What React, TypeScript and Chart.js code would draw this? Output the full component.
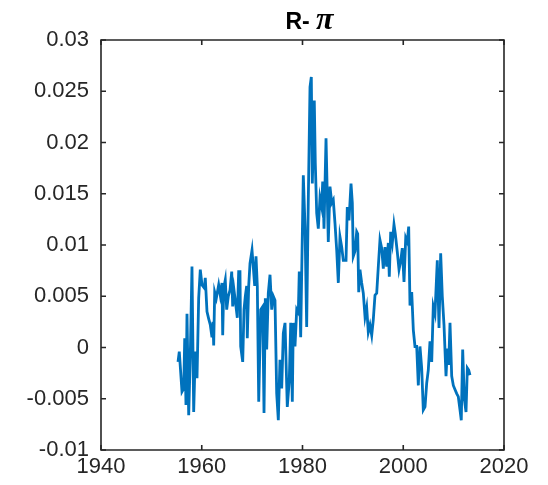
import React, { useEffect, useRef } from "react";
import { Chart, registerables } from "chart.js";

Chart.register(...registerables);

const years: number[] = [
  1955.29, 1955.54, 1956.08, 1956.42, 1956.62, 1956.87, 1957.07, 1957.41, 1957.73, 1958.06,
  1958.40, 1958.72, 1959.06, 1959.39, 1959.71, 1960.05, 1960.51, 1960.70, 1961.04, 1961.38,
  1961.70, 1962.03, 1962.23, 1962.37, 1962.57, 1962.89, 1963.36, 1963.68, 1964.02, 1964.16,
  1964.36, 1964.67, 1964.95, 1965.27, 1965.61, 1965.95, 1966.14, 1966.40, 1966.80, 1967.06,
  1967.33, 1967.59, 1967.73, 1968.13, 1968.39, 1968.65, 1968.92, 1969.04, 1969.32, 1969.58,
  1969.98, 1970.51, 1970.77, 1971.03, 1971.31, 1971.70, 1972.10, 1972.36, 1972.62, 1972.89,
  1973.21, 1973.55, 1973.89, 1974.20, 1974.54, 1974.88, 1975.20, 1975.53, 1975.87, 1976.19,
  1976.53, 1976.98, 1977.38, 1977.66, 1977.98, 1978.17, 1978.51, 1978.85, 1979.17, 1979.36,
  1979.64, 1979.84, 1980.16, 1980.50, 1980.83, 1981.15, 1981.49, 1981.75, 1981.95, 1982.34,
  1982.54, 1982.82, 1983.14, 1983.47, 1983.81, 1984.01, 1984.27, 1984.67, 1985.12, 1985.46,
  1985.80, 1986.11, 1986.45, 1986.79, 1987.11, 1987.44, 1987.78, 1988.10, 1988.64, 1988.89,
  1989.23, 1989.63, 1989.89, 1990.08, 1990.42, 1990.76, 1990.96, 1991.16, 1991.41, 1991.75,
  1992.07, 1992.41, 1992.74, 1993.06, 1993.40, 1993.74, 1994.05, 1994.39, 1994.73, 1995.05,
  1995.38, 1995.72, 1996.04, 1996.38, 1996.71, 1997.03, 1997.23, 1997.51, 1997.83, 1998.16,
  1998.42, 1998.82, 1999.16, 1999.49, 1999.81, 2000.15, 2000.49, 2000.80, 2001.08, 2001.34,
  2001.68, 2002.00, 2002.33, 2002.67, 2002.99, 2003.32, 2003.66, 2003.98, 2004.32, 2004.65,
  2004.97, 2005.31, 2005.65, 2005.96, 2006.30, 2006.76, 2007.10, 2007.43, 2007.75, 2008.09,
  2008.49, 2008.75, 2009.02, 2009.28, 2009.62, 2009.94, 2010.27, 2010.61, 2010.93, 2011.27,
  2011.52, 2011.80, 2012.12, 2012.46, 2012.72, 2012.99, 2013.25,
];

const realRate: number[] = [
  -0.0014, -0.0004, -0.0043, -0.0040, 0.0009, -0.0056, 0.0033, -0.0066, -0.0007, 0.0079,
  -0.0063, -0.0004, -0.0030, 0.0048, 0.0076, 0.0061, 0.0058, 0.0068, 0.0035, 0.0028,
  0.0022, 0.0010, 0.0025, 0.0002, 0.0054, 0.0048, 0.0061, 0.0051, 0.0063, 0.0012,
  0.0058, 0.0066, 0.0037, 0.0050, 0.0056, 0.0074, 0.0040, 0.0056, 0.0040, 0.0029,
  0.0074, 0.0074, 0.0001, -0.0014, 0.0037, 0.0050, 0.0060, 0.0009, 0.0060, 0.0082,
  0.0095, 0.0060, 0.0089, 0.0060, -0.0053, 0.0037, 0.0040, -0.0064, 0.0048, -0.0002,
  0.0053, 0.0071, 0.0037, 0.0050, 0.0046, -0.0045, -0.0071, -0.0012, -0.0040, 0.0014,
  0.0024, -0.0058, -0.0032, 0.0024, -0.0053, 0.0024, 0.0001, 0.0037, 0.0034, 0.0074,
  0.0010, 0.0073, 0.0168, 0.0118, 0.0020, 0.0144, 0.0254, 0.0264, 0.0160, 0.0241,
  0.0180, 0.0131, 0.0116, 0.0146, 0.0137, 0.0162, 0.0116, 0.0204, 0.0103, 0.0157,
  0.0141, 0.0144, 0.0121, 0.0095, 0.0063, 0.0108, 0.0098, 0.0085, 0.0085, 0.0137,
  0.0124, 0.0160, 0.0141, 0.0089, 0.0094, 0.0113, 0.0111, 0.0054, 0.0076, 0.0063,
  0.0053, 0.0030, 0.0039, 0.0015, 0.0022, 0.0012, 0.0027, 0.0051, 0.0053, 0.0079,
  0.0105, 0.0097, 0.0077, 0.0098, 0.0079, 0.0102, 0.0069, 0.0113, 0.0102, 0.0120,
  0.0111, 0.0093, 0.0076, 0.0084, 0.0097, 0.0064, 0.0107, 0.0103, 0.0118, 0.0041,
  0.0054, 0.0017, 0.0001, 0.0001, -0.0037, 0.0001, -0.0020, -0.0061, -0.0058, -0.0035,
  -0.0022, 0.0006, -0.0014, 0.0040, 0.0033, 0.0085, 0.0019, 0.0092, 0.0050, 0.0022,
  -0.0028, -0.0001, -0.0017, 0.0024, -0.0028, -0.0037, -0.0041, -0.0045, -0.0048, -0.0061,
  -0.0071, -0.0002, -0.0050, -0.0063, -0.0020, -0.0022, -0.0027,
];

const xTicks: number[] = [1940, 1960, 1980, 2000, 2020];
const yTicks: number[] = [-0.01, -0.005, 0, 0.005, 0.01, 0.015, 0.02, 0.025, 0.03];
const titleMain = "R- ";
const titleGreek = "\u03C0";

const AXIS_COLOR = "#262626";
const LINE_COLOR = "#0072BD";

const boxPlugin = {
  id: "matlabBox",
  afterDraw(chart: any) {
    const { ctx, chartArea } = chart;
    const { left, right, top, bottom } = chartArea;
    const xs = chart.scales.x;
    const ys = chart.scales.y;
    ctx.save();
    ctx.strokeStyle = AXIS_COLOR;
    ctx.lineWidth = 1.6;
    ctx.beginPath();
    ctx.rect(left, top, right - left, bottom - top);
    ctx.stroke();
    const tl = 5;
    ctx.beginPath();
    xTicks.forEach((v) => {
      const px = xs.getPixelForValue(v);
      ctx.moveTo(px, bottom);
      ctx.lineTo(px, bottom - tl);
      ctx.moveTo(px, top);
      ctx.lineTo(px, top + tl);
    });
    yTicks.forEach((v) => {
      const py = ys.getPixelForValue(v);
      ctx.moveTo(left, py);
      ctx.lineTo(left + tl, py);
      ctx.moveTo(right, py);
      ctx.lineTo(right - tl, py);
    });
    ctx.stroke();

    // title
    const f1 = 'bold 23px "Liberation Sans", Arial, sans-serif';
    const f2 = 'italic bold 32px "Liberation Serif", "DejaVu Serif", serif';
    ctx.font = f1;
    const w1 = ctx.measureText(titleMain).width;
    ctx.font = f2;
    const w2 = ctx.measureText(titleGreek).width;
    const cx = (left + right) / 2 + 7;
    const x0 = cx - (w1 + w2) / 2;
    const baseline = 29;
    ctx.fillStyle = "#000000";
    ctx.textBaseline = "alphabetic";
    ctx.textAlign = "left";
    ctx.font = f1;
    ctx.fillText(titleMain, x0, baseline);
    ctx.font = f2;
    ctx.fillText(titleGreek, x0 + w1, baseline);
    ctx.restore();
  },
};

export default function App() {
  const ref = useRef<HTMLCanvasElement | null>(null);
  useEffect(() => {
    document.body.style.margin = "0";
    const canvas = ref.current;
    if (!canvas) return;
    const points = years.map((x, i) => ({ x, y: realRate[i] }));
    const tickFont = { family: '"Liberation Sans", Arial, sans-serif', size: 22 };
    const chart = new Chart(canvas, {
      type: "line",
      data: {
        datasets: [
          {
            data: points,
            borderColor: LINE_COLOR,
            borderWidth: 2.8,
            pointRadius: 0,
            tension: 0,
            fill: false,
          },
        ],
      },
      options: {
        animation: false,
        responsive: false,
        maintainAspectRatio: false,
        layout: { padding: { left: 0, right: 44, top: 40, bottom: 0 } },
        plugins: {
          legend: { display: false },
          title: { display: false },
          tooltip: { enabled: false },
        },
        scales: {
          x: {
            type: "linear",
            min: 1940,
            max: 2020,
            afterBuildTicks: (scale: any) => {
              scale.ticks = xTicks.map((v) => ({ value: v }));
            },
            afterFit: (scale: any) => {
              scale.height = 35;
            },
            grid: { display: false, drawTicks: false },
            border: { display: false },
            ticks: {
              color: AXIS_COLOR,
              font: tickFont,
              padding: 4,
              maxRotation: 0,
              autoSkip: false,
              callback: (v: any) => String(v),
            },
          },
          y: {
            type: "linear",
            min: -0.01,
            max: 0.03,
            afterBuildTicks: (scale: any) => {
              scale.ticks = yTicks.map((v) => ({ value: v }));
            },
            afterFit: (scale: any) => {
              scale.width = 101;
            },
            grid: { display: false, drawTicks: false },
            border: { display: false },
            ticks: {
              color: AXIS_COLOR,
              font: tickFont,
              padding: 12,
              autoSkip: false,
              callback: (v: any) => {
                const n = Number(Number(v).toFixed(3));
                return n === 0 ? "0" : String(n);
              },
            },
          },
        },
      },
      plugins: [boxPlugin],
    });
    return () => chart.destroy();
  }, []);
  return <canvas ref={ref} width={548} height={485} style={{ display: "block" }} />;
}
